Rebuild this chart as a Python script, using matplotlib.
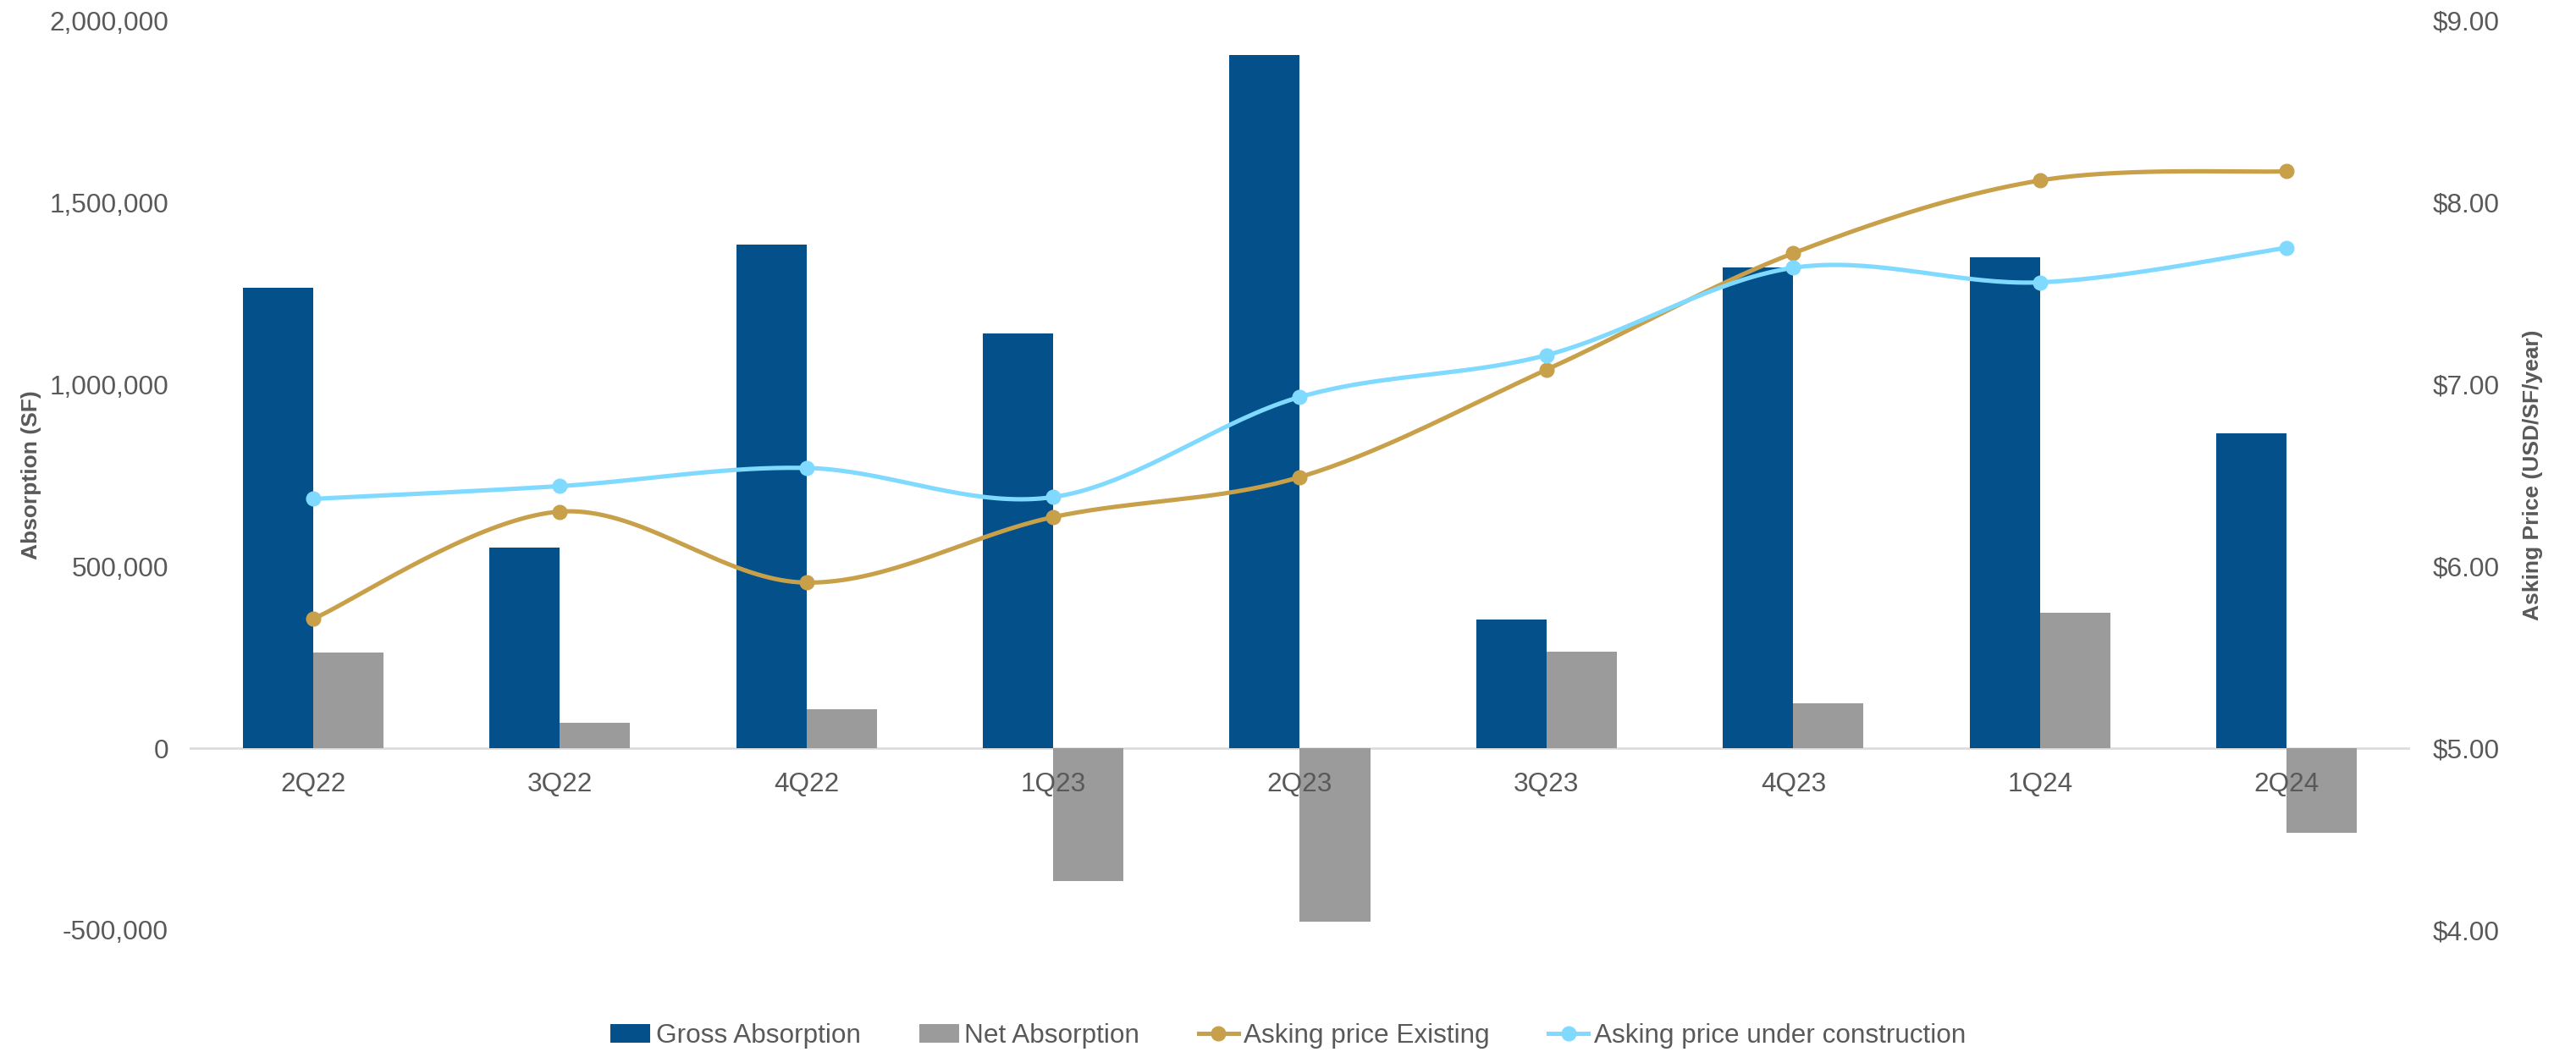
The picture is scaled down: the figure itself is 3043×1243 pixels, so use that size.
import numpy as np
import matplotlib
matplotlib.use("Agg")
from matplotlib import pyplot as plt
from matplotlib.ticker import FuncFormatter, FixedLocator

quarters = ["2Q22", "3Q22", "4Q22", "1Q23", "2Q23", "3Q23", "4Q23", "1Q24", "2Q24"]
gross_absorption = [1265000, 552000, 1384000, 1139000, 1905000, 354000, 1320000, 1348000, 864000]
net_absorption = [263000, 70000, 106000, -364000, -476000, 264000, 124000, 371000, -232000]
price_existing = [5.71, 6.30, 5.91, 6.27, 6.49, 7.08, 7.72, 8.12, 8.17]
price_under_construction = [6.37, 6.44, 6.54, 6.38, 6.93, 7.16, 7.64, 7.56, 7.75]

BLUE = "#03508A"
GREY = "#9B9B9B"
GOLD = "#C9A04A"
SKY = "#80DAFF"
TEXT = "#595959"


def smooth(xs, ys, steps=40):
    # bezier through the points, same style as spreadsheet "smoothed line"
    p = np.column_stack([xs, ys]).astype(float)
    p = np.vstack([p[0], p, p[-1]])
    out = []
    t = np.linspace(0, 1, steps)[:, None]
    for i in range(1, len(p) - 2):
        p0, p1, p2, p3 = p[i - 1], p[i], p[i + 1], p[i + 2]
        c1 = p1 + (p2 - p0) / 6
        c2 = p2 - (p3 - p1) / 6
        seg = ((1 - t) ** 3) * p1 + 3 * ((1 - t) ** 2) * t * c1 + 3 * (1 - t) * t ** 2 * c2 + t ** 3 * p2
        out.append(seg if i == 1 else seg[1:])
    out = np.vstack(out)
    return out[:, 0], out[:, 1]


plt.rcParams["font.family"] = ["Liberation Sans", "DejaVu Sans"]
plt.rcParams["text.color"] = TEXT

W, H = 3043, 1243
fig = plt.figure(figsize=(W / 100, H / 100), dpi=100)
left, right, top, bottom = 224, 2847, 24, 1099
ax = fig.add_axes([left / W, 1 - bottom / H, (right - left) / W, (bottom - top) / H])

x = np.arange(len(quarters))
bw = 0.285
ax.bar(x - bw / 2, gross_absorption, bw, color=BLUE, label="Gross Absorption", zorder=2)
ax.bar(x + bw / 2, net_absorption, bw, color=GREY, label="Net Absorption", zorder=2)
ax.axhline(0, color="#D9D9D9", lw=1.8, zorder=1)

ax.set_xlim(-0.5, len(quarters) - 0.5)
ax.set_ylim(-500000, 2000000)
ax.yaxis.set_major_locator(FixedLocator(np.arange(-500000, 2000001, 500000)))
ax.yaxis.set_major_formatter(FuncFormatter(lambda v, _: f"{v:,.0f}"))
ax.set_xticks(x)
ax.set_xticklabels(quarters)
ax.set_axisbelow(False)  # category labels sit on top of the negative bars
ax.spines["bottom"].set_position(("data", 0))
ax.tick_params(axis="y", length=0, pad=18, labelsize=22.7, labelcolor=TEXT)
ax.tick_params(axis="x", length=0, pad=20.5, labelsize=22.7, labelcolor=TEXT)
for s in ax.spines.values():
    s.set_visible(False)

ax2 = ax.twinx()
ax2.set_ylim(4, 9)
ax2.yaxis.set_major_locator(FixedLocator(np.arange(4, 9.01, 1)))
ax2.yaxis.set_major_formatter(FuncFormatter(lambda v, _: f"${v:.2f}"))
ax2.tick_params(axis="y", length=0, pad=19, labelsize=22.7, labelcolor=TEXT)
for s in ax2.spines.values():
    s.set_visible(False)

for vals, col, name in [(price_existing, GOLD, "Asking price Existing"),
                        (price_under_construction, SKY, "Asking price under construction")]:
    sx, sy = smooth(x, vals)
    ax2.plot(sx, sy, color=col, lw=3.7, solid_capstyle="round", zorder=3)
    ax2.plot(x, vals, "o", color=col, ms=12, zorder=4)
    ax2.plot([], [], color=col, lw=3.7, marker="o", ms=12, label=name)

mid = 1 - 561 / H
fig.text(37 / W, mid, "Absorption (SF)", rotation=90, ha="center", va="center",
         fontsize=19, fontweight="bold", color=TEXT)
fig.text(2992 / W, mid, "Asking Price (USD/SF/year)", rotation=90, ha="center", va="center",
         fontsize=19, fontweight="bold", color=TEXT)

h1, l1 = ax.get_legend_handles_labels()
h2, l2 = ax2.get_legend_handles_labels()
fig.legend(h1 + h2, l1 + l2, loc="center", bbox_to_anchor=(0.5, 1 - 1224 / H), ncol=4,
           frameon=False, fontsize=22.7, handlelength=1.5, handleheight=0.67,
           handletextpad=0.2, columnspacing=2.2, labelcolor=TEXT)

fig.savefig("out.png", dpi=100, facecolor="white")
